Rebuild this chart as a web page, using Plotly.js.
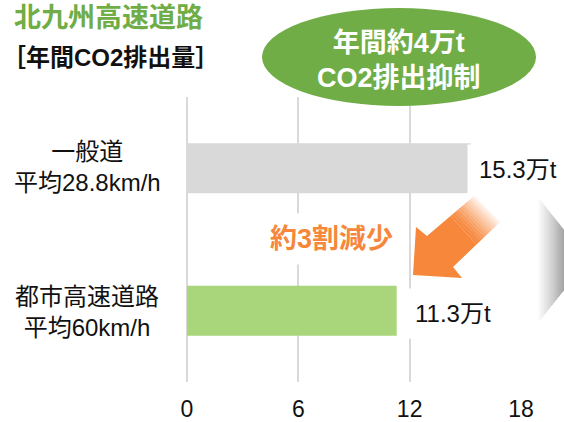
<!DOCTYPE html>
<html><head><meta charset="utf-8">
<script src="https://cdn.plot.ly/plotly-3.0.1.min.js"></script>
<style>html,body{margin:0;padding:0;background:#fff;}#chart{width:564px;height:422px;}</style>
</head><body><div id="chart"></div>
<script>
// ---- data ----
const categories = ['一般道', '都市高速道路'];
const speedLabels = ['平均28.8km/h', '平均60km/h'];
const values = [15.3, 11.3];
const unit = '万t';
const barColors = ['#D9D9D9', '#A9D67A'];
const tickVals = [0, 6, 12, 18];
const titleText = '北九州高速道路';
const subtitleText = '［年間CO2排出量］';
const bubbleText = '年間約4万t<br>CO2排出抑制';
const reductionText = '約3割減少';

// ---- layout geometry (pixels) ----
const W = 564, H = 422;
const M = {l: 187, r: 43, t: 97, b: 40};
const pw = W - M.l - M.r, ph = H - M.t - M.b;
const px = x => (x - M.l) / pw;
const py = y => (H - M.b - y) / ph;
const FONT = '"Liberation Sans", Arial, "Noto Sans CJK JP", sans-serif';

function poly(pts) {
  return 'M ' + pts.map(p => px(p[0]) + ',' + py(p[1])).join(' L ') + ' Z';
}
function mix(c1, c2, t) {
  const a = [1,3,5].map(i => parseInt(c1.substr(i,2),16));
  const b = [1,3,5].map(i => parseInt(c2.substr(i,2),16));
  return 'rgb(' + a.map((v,i) => Math.round(v + (b[i]-v)*t)).join(',') + ')';
}

const shapes = [];
// green bubble
shapes.push({type: 'circle', xref: 'paper', yref: 'paper', layer: 'above',
  x0: px(262), x1: px(536), y0: py(106), y1: py(8),
  fillcolor: '#70AD47', line: {width: 0}});

// orange arrow (head + faded shaft)
const orange = '#F6873B';
const uN = [427, 236], lN = [453, 267], uE = [474, 196], lE = [500, 222];
const lerp = (p, q, t) => [p[0] + (q[0]-p[0])*t, p[1] + (q[1]-p[1])*t];
const t0 = 0.5;
shapes.push({type: 'path', xref: 'paper', yref: 'paper', layer: 'above',
  path: poly([[413, 275], [416, 227], uN, lerp(uN, uE, t0), lerp(lN, lE, t0), lN, [462, 278]]),
  fillcolor: orange, line: {width: 0}});
const nFade = 12;
for (let i = 0; i < nFade; i++) {
  const a = t0 + (1 - t0) * i / nFade, b = Math.min(1, t0 + (1 - t0) * (i + 1) / nFade + 0.004);
  shapes.push({type: 'path', xref: 'paper', yref: 'paper', layer: 'above',
    path: poly([lerp(uN, uE, a), lerp(uN, uE, b), lerp(lN, lE, b), lerp(lN, lE, a)]),
    fillcolor: mix(orange, '#FFFFFF', Math.pow((i + 0.5) / nFade, 1.3) * 0.92), line: {width: 0}});
}

// grey gradient triangle on the right
const tx0 = 538, tx1 = 567, nS = 14;
const yTop = x => 197 + (x - tx0) * 1.26, yBot = x => 323 - (x - tx0) * 1.26;
for (let i = 0; i < nS; i++) {
  const a = tx0 + (tx1 - tx0) * i / nS, b = tx0 + (tx1 - tx0) * (i + 1) / nS + 0.3;
  shapes.push({type: 'path', xref: 'paper', yref: 'paper', layer: 'above',
    path: poly([[a, yTop(a)], [b, yTop(b)], [b, yBot(b)], [a, yBot(a)]]),
    fillcolor: mix('#FFFFFF', '#9A9A9A', (i + 0.5) / nS), line: {width: 0}});
}

const annotations = [];
annotations.push({xref: 'paper', yref: 'paper', x: px(12), y: py(18), xanchor: 'left', yanchor: 'middle',
  text: '<b>' + titleText + '</b>', showarrow: false, font: {family: FONT, size: 27, color: '#70AD47'}});
annotations.push({xref: 'paper', yref: 'paper', x: px(0), y: py(57), xanchor: 'left', yanchor: 'middle',
  text: '<b>' + subtitleText + '</b>', showarrow: false, font: {family: FONT, size: 24, color: '#111'}});
annotations.push({xref: 'paper', yref: 'paper', x: px(399), y: py(60), xanchor: 'center', yanchor: 'middle',
  text: '<b>' + bubbleText + '</b>', showarrow: false, font: {family: FONT, size: 27, color: '#FFFFFF'}});
annotations.push({xref: 'paper', yref: 'paper', x: px(331), y: py(239), xanchor: 'center', yanchor: 'middle',
  text: '<b>' + reductionText + '</b>', showarrow: false, bgcolor: '#FFFFFF', borderpad: 10,
  font: {family: FONT, size: 27, color: orange}});
categories.forEach((c, i) => {
  annotations.push({xref: 'paper', yref: 'y', x: px(87), y: c, xanchor: 'center', yanchor: 'middle',
    yshift: i === 0 ? 1 : -1,
    text: c + '<br>' + speedLabels[i], showarrow: false, font: {family: FONT, size: 24, color: '#111'}});
  annotations.push({xref: 'x', yref: 'y', x: values[i], y: c, xanchor: 'left', yanchor: 'middle',
    xshift: i === 0 ? -4 : 6, yshift: i === 0 ? -1 : -3,
    text: values[i] + unit, showarrow: false, bgcolor: '#FFFFFF', borderpad: 11,
    font: {family: FONT, size: 24, color: '#111'}});
});

const data = [{
  type: 'bar', orientation: 'h', y: categories, x: values, width: 0.35,
  marker: {color: barColors, line: {width: 0}}, hoverinfo: 'skip'
}];

const layout = {
  width: W, height: H, margin: M,
  paper_bgcolor: '#FFFFFF', plot_bgcolor: '#FFFFFF',
  showlegend: false,
  font: {family: FONT, color: '#111'},
  xaxis: {range: [0, 18], tickvals: tickVals, showgrid: true, gridcolor: '#D9D9D9', gridwidth: 2,
    zeroline: true, zerolinecolor: '#D9D9D9', zerolinewidth: 2, showline: false, ticks: '',
    ticklabelstandoff: 11, tickfont: {family: FONT, size: 23, color: '#111'}, fixedrange: true},
  yaxis: {type: 'category', autorange: 'reversed', showticklabels: false, showgrid: false,
    zeroline: false, showline: false, ticks: '', fixedrange: true},
  shapes: shapes, annotations: annotations
};

Plotly.newPlot('chart', data, layout, {staticPlot: true, displayModeBar: false});
</script>
</body></html>
